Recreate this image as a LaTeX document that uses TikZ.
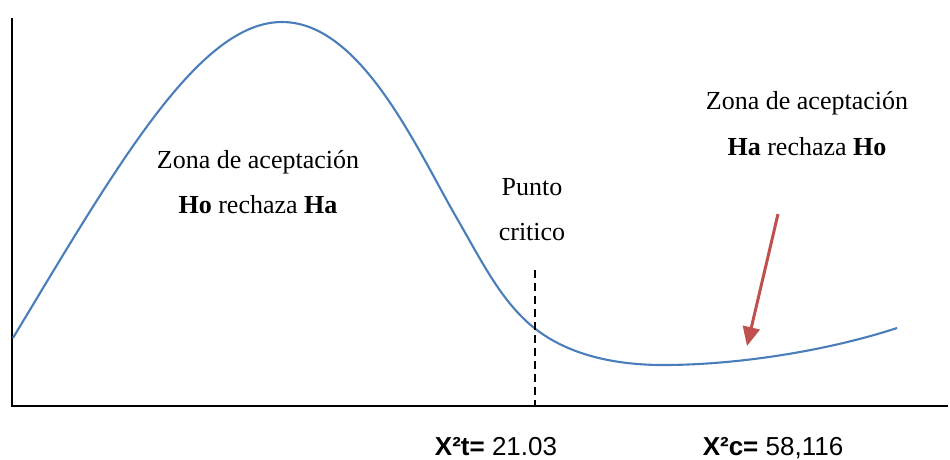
\documentclass[tikz,border=0pt]{standalone}
\usepackage{fontspec}
\setmainfont{Liberation Serif}
\newfontfamily\arialfont{Liberation Sans}
\usetikzlibrary{arrows.meta}
\definecolor{curveblue}{RGB}{74,126,187}
\definecolor{arrowred}{RGB}{192,80,77}
\tikzset{zona/.style={font=\fontsize{26}{31}\selectfont, anchor=base},
 valor/.style={font=\arialfont\fontsize{26}{31}\selectfont, anchor=base},
 eje/.style={line width=2.3pt},
 }

\begin{document}
\begin{tikzpicture}[x=1pt, y=-1pt]
        \useasboundingbox (0,0) rectangle (950,459);
        \coordinate (ejeTop) at (12,18);
        \coordinate (origen) at (12,406);
        \coordinate (ejeFin) at (948,406);
        \draw[eje] (ejeTop) -- (origen) -- (ejeFin);

        \coordinate (inicio) at (13,338);
        \coordinate (pico) at (282,22);
        \coordinate (inflexion) at (455,215);
        \coordinate (corte) at (533,327);
        \coordinate (minimo) at (663,365);
        \coordinate (final) at (897,328);
        \draw[curveblue, line width=2.1pt] (inicio) .. controls (120,160) and (200,22) .. (pico)
            .. controls (360,22) and (415,145) .. (inflexion)
            .. controls (480,258) and (500,300) .. (corte)
            .. controls (570,357) and (620,365) .. (minimo)
            .. controls (740,365) and (830,350) .. (final);

        \coordinate (critico) at (535,270);
        \draw[line width=2pt, dash pattern=on 8pt off 5pt] (critico) -- (critico |- origen);

        \coordinate (flechaIni) at (778,214);
        \coordinate (flechaFin) at (747,346);
        \draw[arrowred, line width=3pt, -{Triangle[width=17pt, length=19pt]}] (flechaIni) -- (flechaFin);

        \node[zona] (zonaIzq) at (258,168) {Zona de aceptación};
        \node[zona] (rechIzq) at (258,213) {\textbf{Ho} rechaza \textbf{Ha}};
        \node[zona] (zonaDer) at (807,109) {Zona de aceptación};
        \node[zona] (rechDer) at (807,155) {\textbf{Ha} rechaza \textbf{Ho}};
        \node[zona] (punto) at (532,195) {Punto};
        \node[zona] (critTxt) at (532,240) {critico};

        \node[valor] (valorT) at (496,455) {\textbf{X²t=} 21.03};
        \node[valor] (valorC) at (773,455) {\textbf{X²c=} 58,116};
    \end{tikzpicture}
\end{document}
